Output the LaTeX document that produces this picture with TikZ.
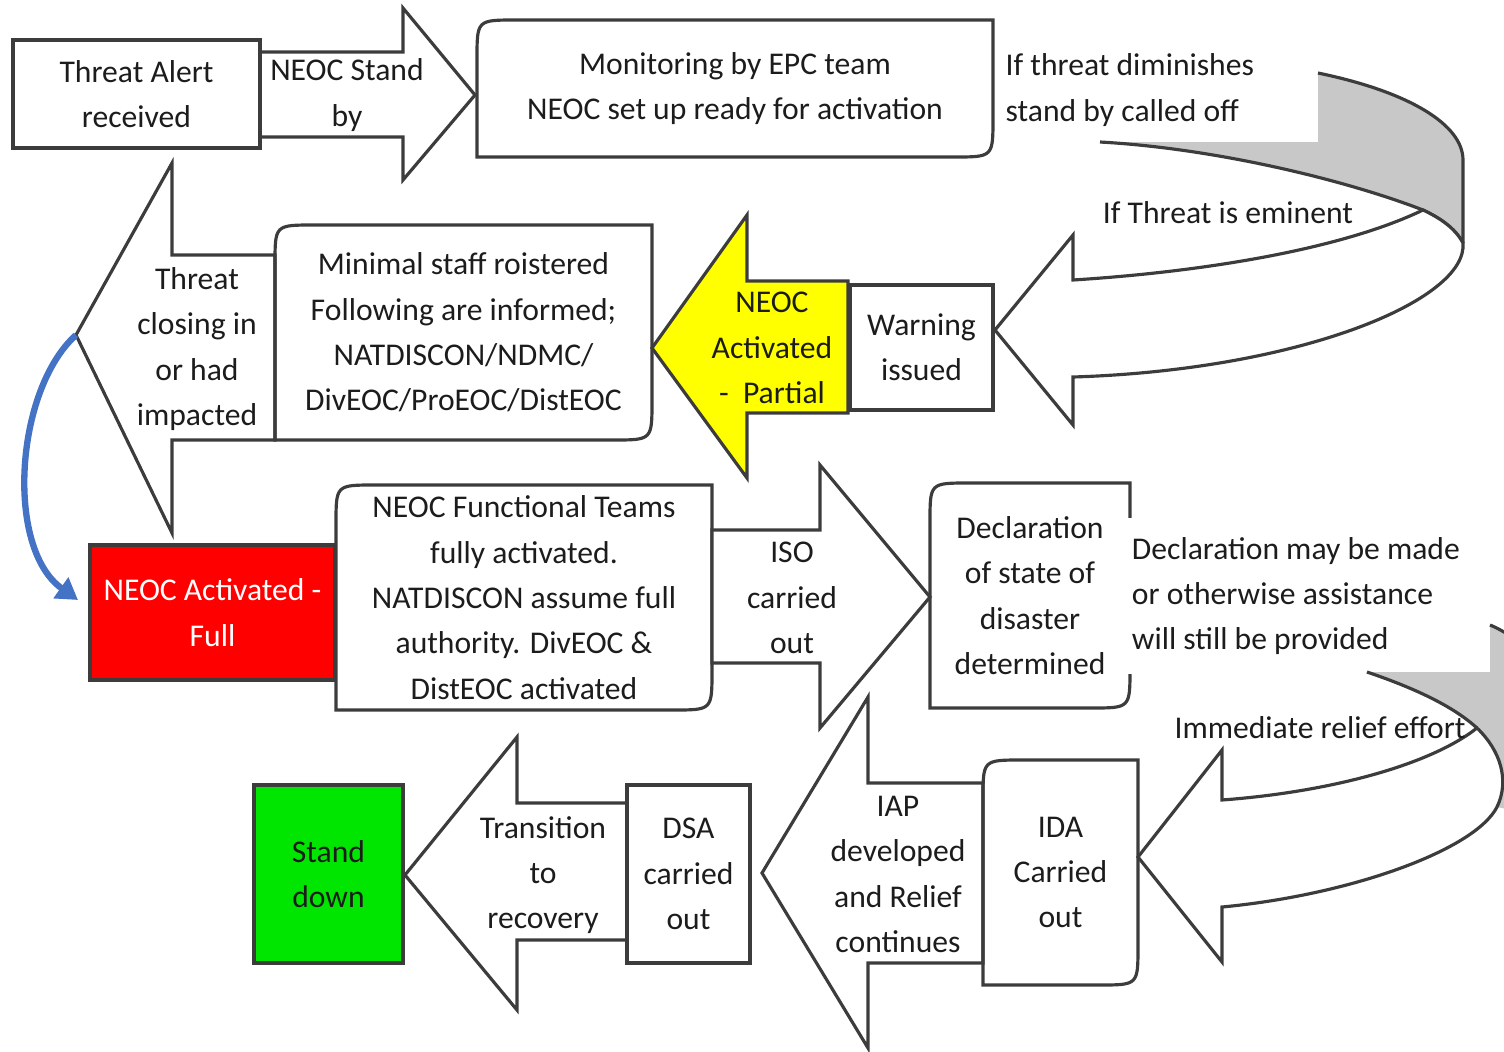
\documentclass[tikz,border=0pt]{standalone}
\usepackage{fontspec}
\setmainfont{Carlito}
\usepackage{tikz}
\usetikzlibrary{arrows.meta}
\definecolor{edge}{RGB}{60,60,60}
\definecolor{ink}{RGB}{28,28,28}
\definecolor{band}{RGB}{200,200,200}
\definecolor{fullred}{RGB}{255,0,0}
\definecolor{partyellow}{RGB}{255,255,0}
\definecolor{downgreen}{RGB}{0,230,0}
\definecolor{loopblue}{RGB}{68,114,196}
\newcommand{\diagframe}[1]{%
  \draw[frame] (#1.south west) -- ([yshift=-11pt]#1.north west)
    .. controls (#1.north west) .. ([xshift=11pt]#1.north west)
    -- (#1.north east) -- ([yshift=11pt]#1.south east)
    .. controls (#1.south east) .. ([xshift=-11pt]#1.south east) -- cycle;}

\begin{document}
\begin{tikzpicture}[x=0.1mm, y=-0.1mm, font=\fontsize{9}{12.9}\selectfont,
  frame/.style={draw=edge, line width=0.9pt, line join=miter},
  box/.style={frame, fill=white, align=center, text=ink, inner sep=0pt, outer sep=0pt},
  rbox/.style={align=center, text=ink, inner sep=0pt, outer sep=0pt},
  txt/.style={align=center, text=ink, inner sep=0pt}]
\useasboundingbox (0,0) rectangle (1504,1052);
\clip (0,0) rectangle (1504,1052);

\draw[frame, fill=white] (260,52) -- (403,52) -- (403,8) -- (475,95) -- (403,180) -- (403,137) -- (260,137) -- cycle;
\node[box, minimum width=24.7mm, minimum height=10.8mm] (alert) at (136.5,94) {Threat Alert\\received};
\node[txt] (standby) at (347,95) {NEOC Stand\\by};
\node[rbox, minimum width=51.6mm, minimum height=13.7mm] (monitor) at (735,88.5) {Monitoring by EPC team\\NEOC set up ready for activation};
\diagframe{monitor}
\node[txt, anchor=west, align=left] (calloff) at (1005,90) {If threat diminishes\\stand by called off};

\fill[band] (1318,73) .. controls (1410,92) and (1463,125) .. (1463,160) -- (1463,243)
  .. controls (1455,228) and (1440,218) .. (1423,210)
  .. controls (1340,178) and (1210,148) .. (1100,142) -- (1318,142) -- cycle;
\draw[frame] (1318,73) .. controls (1410,92) and (1463,125) .. (1463,160) -- (1463,243);
\draw[frame] (1100,142) .. controls (1210,148) and (1340,178) .. (1423,210)
  .. controls (1440,218) and (1455,228) .. (1463,243);
\draw[frame, fill=white] (1073,280) .. controls (1200,272) and (1340,250) .. (1423,210)
  .. controls (1440,218) and (1455,228) .. (1463,243)
  .. controls (1468,300) and (1300,370) .. (1073,377)
  -- (1073,425) -- (995,330) -- (1073,235) -- cycle;
\node[txt] (eminent) at (1228,213) {If Threat is eminent};

\draw[frame, fill=white] (275,255) -- (172,255) -- (172,163) -- (76,335) -- (172,533) -- (172,440) -- (275,440) -- cycle;
\coordinate (closetip) at (76,335);
\node[txt] (closing) at (197,349) {Threat\\closing in\\or had\\impacted};
\node[rbox, minimum width=37.7mm, minimum height=21.5mm] (roster) at (463.5,332.5) {Minimal staff roistered\\Following are informed;\\NATDISCON/NDMC/\\DivEOC/ProEOC/DistEOC};
\diagframe{roster}
\draw[frame, fill=partyellow] (848,281) -- (747,281) -- (747,215) -- (652,348) -- (747,478) -- (747,413) -- (848,413) -- cycle;
\node[txt] (partial) at (772,348) {NEOC\\Activated\\-~~Partial};
\node[box, minimum width=14.3mm, minimum height=12.5mm] (warning) at (921.5,347.5) {Warning\\issued};

\node[box, fill=fullred, text=white, minimum width=24.5mm, minimum height=13.5mm] (full) at (212.5,612.5) {NEOC Activated -\\Full};
\coordinate (fullin) at (78,600);
\draw[loopblue, line width=1.8pt, -{Triangle[length=6pt,width=7pt]}] (closetip) .. controls (15,390) and (5,548) .. (fullin);
\node[rbox, minimum width=37.6mm, minimum height=22.5mm] (teams) at (524,597.5) {NEOC Functional Teams\\fully activated.\\NATDISCON assume full\\authority. DivEOC \&\\DistEOC activated};
\diagframe{teams}
\draw[frame, fill=white] (712,530) -- (820,530) -- (820,465) -- (930,597) -- (820,728) -- (820,663) -- (712,663) -- cycle;
\node[txt] (iso) at (792,598) {ISO\\carried\\out};
\node[rbox, minimum width=20mm, minimum height=22.5mm] (declare) at (1030,595.5) {Declaration\\of state of\\disaster\\determined};
\diagframe{declare}
\node[txt, align=left, anchor=west, fill=white, inner xsep=1.5pt, inner ysep=5.5pt] (maybe) at (1126,596) {Declaration may be made\\or otherwise assistance\\will still be provided};

\fill[band] (1490,625) .. controls (1510,633) and (1530,650) .. (1545,670) -- (1560,700) -- (1560,820) -- (1497,807)
  .. controls (1510,780) and (1500,750) .. (1477,728)
  .. controls (1455,708) and (1420,690) .. (1367,672) -- (1490,672) -- cycle;
\draw[frame] (1490,625) .. controls (1510,633) and (1530,650) .. (1545,670);
\draw[frame] (1367,672) .. controls (1420,690) and (1455,708) .. (1477,728);
\draw[frame, fill=white] (1222,800) .. controls (1330,792) and (1430,765) .. (1477,728)
  .. controls (1500,750) and (1510,780) .. (1497,807)
  .. controls (1475,850) and (1350,895) .. (1222,907)
  -- (1222,962) -- (1138,857) -- (1222,750) -- cycle;
\node[txt] (relief) at (1320,728) {Immediate relief effort};

\node[box, fill=downgreen, minimum width=14.9mm, minimum height=17.8mm] (standdown) at (328.5,874) {Stand\\down};
\draw[frame, fill=white] (627,803) -- (517,803) -- (517,737) -- (405,875) -- (517,1010) -- (517,940) -- (627,940) -- cycle;
\node[txt] (recovery) at (543,875) {Transition\\to\\recovery};
\node[box, minimum width=12.3mm, minimum height=17.8mm] (dsa) at (688.5,874) {DSA\\carried\\out};
\draw[frame, fill=white] (983,783) -- (868,783) -- (868,697) -- (762,873) -- (868,1048) -- (868,963) -- (983,963) -- cycle;
\node[txt] (iap) at (898,874.5) {IAP\\developed\\and Relief\\continues};
\node[rbox, minimum width=15.5mm, minimum height=22.5mm] (ida) at (1060.5,872.5) {IDA\\Carried\\out};
\diagframe{ida}
\end{tikzpicture}
\end{document}
